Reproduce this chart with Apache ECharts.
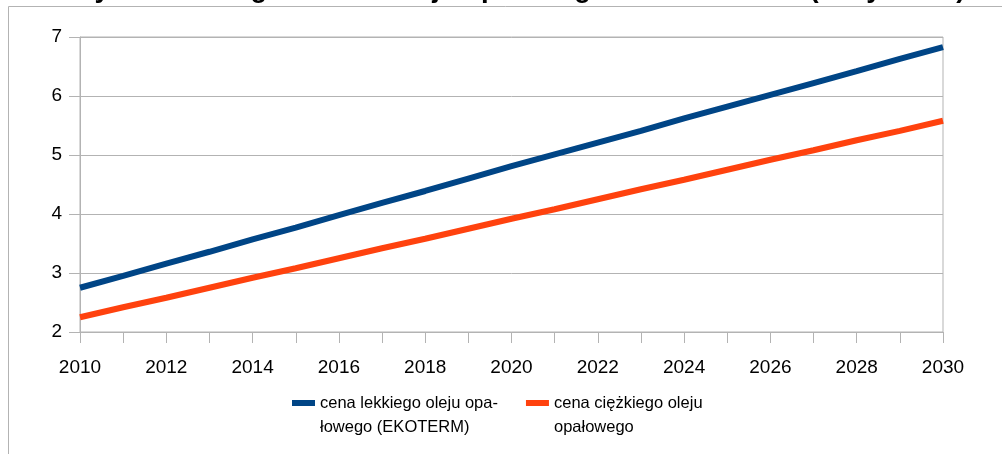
<!DOCTYPE html>
<html>
<head>
<meta charset="utf-8">
<script src="https://cdn.jsdelivr.net/npm/echarts@6/dist/echarts.min.js"></script>
<style>
  html, body { margin: 0; padding: 0; background: #fff; }
  #chart { width: 1002px; height: 454px; }
</style>
</head>
<body>
<div id="chart"></div>
<script>
// lata
var years = ['2010', '2011', '2012', '2013', '2014', '2015', '2016', '2017', '2018', '2019', '2020',
  '2021', '2022', '2023', '2024', '2025', '2026', '2027', '2028', '2029', '2030'];
// cena lekkiego oleju opałowego (EKOTERM)
var lekki = [2.75, 2.95, 3.16, 3.36, 3.57, 3.77, 3.98, 4.19, 4.39, 4.60, 4.81,
  5.01, 5.21, 5.41, 5.62, 5.82, 6.02, 6.22, 6.42, 6.63, 6.83];
// cena ciężkiego oleju opałowego
var ciezki = [2.25, 2.42, 2.58, 2.75, 2.92, 3.08, 3.25, 3.42, 3.58, 3.75, 3.92,
  4.08, 4.25, 4.42, 4.58, 4.75, 4.92, 5.08, 5.25, 5.41, 5.58];
var seriesNames = ['cena lekkiego oleju opa-\nłowego (EKOTERM)', 'cena ciężkiego oleju\nopałowego'];
var tytul = 'Wykres 1. Prognoza cen oleju opałowego dla odbiorców (ceny netto)';

var gray = '#b3b3b3';
var chart = echarts.init(document.getElementById('chart'));
chart.setOption({
  animation: false,
  textStyle: { fontFamily: 'Liberation Sans, Arial, sans-serif' },
  title: {
    text: tytul,
    left: 64,
    top: -30,
    textStyle: { fontSize: 27.5, fontWeight: 'bold', color: '#000' }
  },
  graphic: [{
    type: 'rect',
    silent: true,
    shape: { x: 8.5, y: 6.5, width: 1100, height: 600 },
    style: { fill: 'none', stroke: gray, lineWidth: 1 }
  }],
  grid: {
    left: 80, right: 59, top: 37, bottom: 122,
    show: true, borderColor: gray, borderWidth: 1
  },
  legend: {
    left: 292,
    top: 367,
    padding: 0,
    itemGap: 28,
    itemWidth: 23,
    itemHeight: 6,
    icon: 'rect',
    // pusta pierwsza linia, żeby znacznik stał przy pierwszym wierszu opisu
    formatter: function (name) { return '\n' + name; },
    textStyle: { fontSize: 16.5, lineHeight: 24, color: '#000' },
    data: seriesNames
  },
  xAxis: {
    type: 'category',
    data: years,
    boundaryGap: false,
    axisLine: { lineStyle: { color: gray } },
    axisTick: { show: true, interval: 0, length: 11, lineStyle: { color: gray } },
    axisLabel: { interval: 1, fontSize: 19, color: '#000', margin: 26 },
    splitLine: { show: false }
  },
  yAxis: {
    type: 'value',
    min: 2,
    max: 7,
    interval: 1,
    axisLine: { show: true, lineStyle: { color: gray } },
    axisTick: { show: true, length: 11, lineStyle: { color: gray } },
    axisLabel: { fontSize: 19, color: '#000', margin: 18 },
    splitLine: { lineStyle: { color: gray } }
  },
  series: [{
    name: seriesNames[0],
    type: 'line',
    data: lekki,
    showSymbol: false,
    itemStyle: { color: '#004586' },
    lineStyle: { width: 6, color: '#004586' }
  }, {
    name: seriesNames[1],
    type: 'line',
    data: ciezki,
    showSymbol: false,
    itemStyle: { color: '#ff420e' },
    lineStyle: { width: 6, color: '#ff420e' }
  }]
});
</script>
</body>
</html>
